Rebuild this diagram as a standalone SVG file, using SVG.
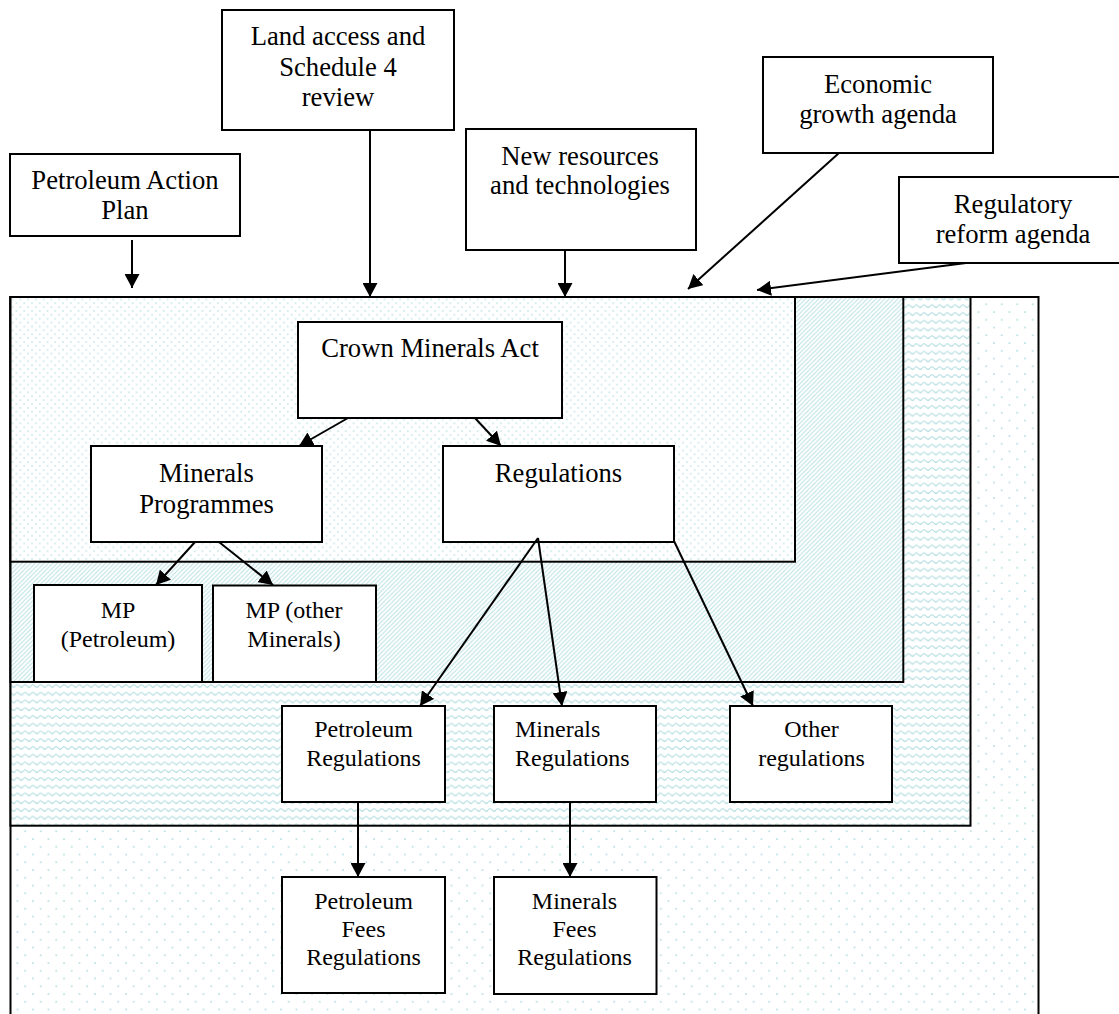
<svg xmlns="http://www.w3.org/2000/svg" width="1119" height="1014" viewBox="0 0 1119 1014">
<defs>
<style>
.box{fill:#fff;stroke:#000;stroke-width:2}
.frame{stroke:#000;stroke-width:2}
.t{font-family:"Liberation Serif","Times New Roman",serif;fill:#000;text-anchor:middle}
.l{font-size:26.67px}
.s{font-size:24px}
.c{fill:none;stroke:#000;stroke-width:2;marker-end:url(#arr)}
</style>
<marker id="arr" markerUnits="userSpaceOnUse" markerWidth="15" markerHeight="15" refX="14" refY="7.5" orient="auto" viewBox="0 0 15 15">
<path d="M0,0 L14,7.5 L0,15 z" fill="#000"/>
</marker>
<pattern id="pSparse" width="15.5" height="15.5" patternUnits="userSpaceOnUse">
<rect width="15.5" height="15.5" fill="#fff"/>
<circle cx="2" cy="2" r="0.85" fill="#9fd5da"/>
<circle cx="9.75" cy="9.75" r="0.85" fill="#9fd5da"/>
</pattern>
<pattern id="pDense" width="7.75" height="7.75" patternUnits="userSpaceOnUse">
<rect width="7.75" height="7.75" fill="#fff"/>
<circle cx="1" cy="1" r="0.8" fill="#a3d8dc"/>
<circle cx="4.875" cy="4.875" r="0.8" fill="#a3d8dc"/>
</pattern>
<pattern id="pHatch" width="4.4" height="4.4" patternUnits="userSpaceOnUse">
<rect width="4.4" height="4.4" fill="#fff"/>
<path d="M-1,5.4 L5.4,-1 M-1,1 L1,-1 M3.4,5.4 L5.4,3.4" stroke="#b8e0e3" stroke-width="1"/>
</pattern>
<pattern id="pWave" width="7.75" height="7.75" patternUnits="userSpaceOnUse">
<rect width="7.75" height="7.75" fill="#fff"/>
<path d="M0,3.9 Q1.94,1.4 3.875,3.9 Q5.81,6.4 7.75,3.9" fill="none" stroke="#a9d9dd" stroke-width="1.1"/>
</pattern>
</defs>

<g id="frames">
<rect class="frame" x="10.5" y="297" width="1028" height="740" fill="url(#pSparse)"/>
<rect class="frame" x="10.5" y="297" width="960" height="528.7" fill="url(#pWave)"/>
<rect class="frame" x="10.5" y="297" width="892.8" height="385" fill="url(#pHatch)"/>
<rect class="frame" x="10.5" y="297" width="784.5" height="264.7" fill="url(#pDense)"/>
</g>

<g id="pap">
<rect class="box" x="10" y="154" width="230" height="82"/>
<text class="t l" x="125" y="189">Petroleum Action</text>
<text class="t l" x="125" y="219">Plan</text>
</g>
<g id="land">
<rect class="box" x="222" y="10" width="232" height="120"/>
<text class="t l" x="338" y="45">Land access and</text>
<text class="t l" x="338" y="76">Schedule 4</text>
<text class="t l" x="338" y="106">review</text>
</g>
<g id="newres">
<rect class="box" x="466" y="129" width="230" height="121"/>
<text class="t l" x="580" y="165">New resources</text>
<text class="t l" x="580" y="194">and technologies</text>
</g>
<g id="econ">
<rect class="box" x="763" y="57" width="230" height="96"/>
<text class="t l" x="878" y="92.5">Economic</text>
<text class="t l" x="878" y="123">growth agenda</text>
</g>
<g id="regreform">
<rect class="box" x="899" y="177" width="228" height="86"/>
<text class="t l" x="1013" y="213">Regulatory</text>
<text class="t l" x="1013" y="243">reform agenda</text>
</g>

<g id="cma">
<rect class="box" x="298" y="322" width="264" height="96"/>
<text class="t l" x="430" y="357">Crown Minerals Act</text>
</g>
<g id="mprog">
<rect class="box" x="91" y="446" width="231" height="96"/>
<text class="t l" x="206.5" y="482">Minerals</text>
<text class="t l" x="206.5" y="513">Programmes</text>
</g>
<g id="regs">
<rect class="box" x="443" y="446" width="231" height="96"/>
<text class="t l" x="558.5" y="482">Regulations</text>
</g>
<g id="mppet">
<rect class="box" x="34" y="585" width="168" height="97"/>
<text class="t s" x="118" y="618">MP</text>
<text class="t s" x="118" y="647">(Petroleum)</text>
</g>
<g id="mpother">
<rect class="box" x="213" y="585.5" width="163" height="96.5"/>
<text class="t s" x="294" y="618">MP (other</text>
<text class="t s" x="294" y="647">Minerals)</text>
</g>
<g id="petregs">
<rect class="box" x="282" y="706" width="163" height="96"/>
<text class="t s" x="363.5" y="737">Petroleum</text>
<text class="t s" x="363.5" y="766">Regulations</text>
</g>
<g id="minregs">
<rect class="box" x="494" y="706" width="162" height="96"/>
<text class="t s" x="515" y="737" style="text-anchor:start">Minerals</text>
<text class="t s" x="515" y="766" style="text-anchor:start">Regulations</text>
</g>
<g id="otherregs">
<rect class="box" x="730" y="706" width="162" height="96"/>
<text class="t s" x="811.5" y="737">Other</text>
<text class="t s" x="811.5" y="766">regulations</text>
</g>
<g id="petfees">
<rect class="box" x="282" y="877" width="163" height="116"/>
<text class="t s" x="363.5" y="909">Petroleum</text>
<text class="t s" x="363.5" y="937">Fees</text>
<text class="t s" x="363.5" y="965">Regulations</text>
</g>
<g id="minfees">
<rect class="box" x="494" y="877" width="162.5" height="117"/>
<text class="t s" x="574.5" y="909">Minerals</text>
<text class="t s" x="574.5" y="937">Fees</text>
<text class="t s" x="574.5" y="965">Regulations</text>
</g>

<g id="connectors">
<line class="c" x1="132" y1="240" x2="132" y2="288"/>
<line class="c" x1="370" y1="130" x2="370" y2="297"/>
<line class="c" x1="565" y1="250" x2="565" y2="297"/>
<line class="c" x1="839" y1="153" x2="688" y2="289"/>
<line class="c" x1="966" y1="263" x2="757" y2="290"/>
<line class="c" x1="348" y1="418" x2="299" y2="446"/>
<line class="c" x1="475" y1="418" x2="501" y2="446"/>
<line class="c" x1="195" y1="542" x2="156" y2="585"/>
<line class="c" x1="219" y1="542" x2="273" y2="585"/>
<line class="c" x1="538" y1="538" x2="420" y2="706"/>
<line class="c" x1="538" y1="538" x2="562" y2="706"/>
<line class="c" x1="674" y1="541" x2="753" y2="706"/>
<line class="c" x1="358" y1="802" x2="358" y2="877"/>
<line class="c" x1="570" y1="802" x2="570" y2="877"/>
</g>
</svg>
